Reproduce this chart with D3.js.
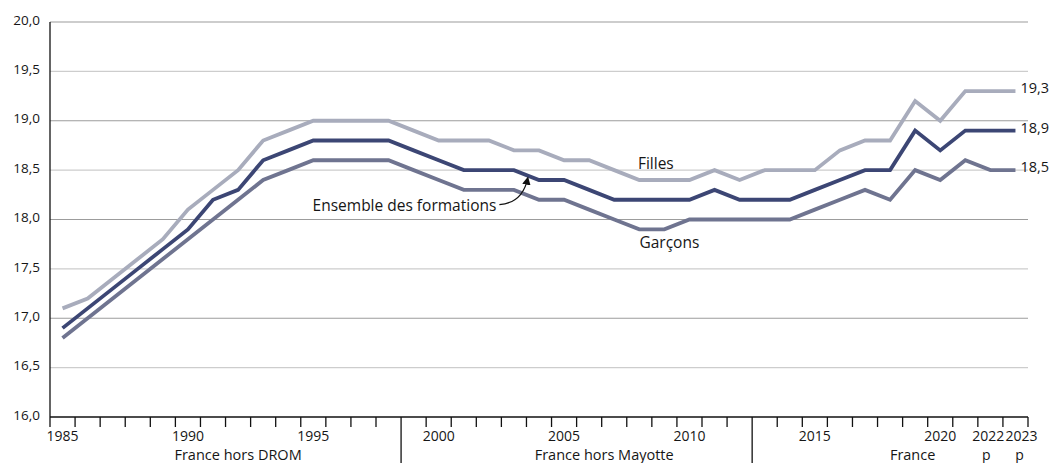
<!DOCTYPE html>
<html>
<head>
<meta charset="utf-8">
<script src="https://cdn.jsdelivr.net/npm/d3@7"></script>
<style>
  body { margin: 0; background: #fff; }
  svg text { font-family: "Open Sans", sans-serif; fill: #161616; }
</style>
</head>
<body>
<div id="chart"></div>
<script>
// years 1985 -> 2023
const years = d3.range(1985, 2024);

// values (years)
const filles = [17.1, 17.2, 17.4, 17.6, 17.8, 18.1, 18.3, 18.5, 18.8, 18.9,
  19.0, 19.0, 19.0, 19.0, 18.9, 18.8, 18.8, 18.8, 18.7, 18.7,
  18.6, 18.6, 18.5, 18.4, 18.4, 18.4, 18.5, 18.4, 18.5, 18.5,
  18.5, 18.7, 18.8, 18.8, 19.2, 19.0, 19.3, 19.3, 19.3];
const ensemble = [16.9, 17.1, 17.3, 17.5, 17.7, 17.9, 18.2, 18.3, 18.6, 18.7,
  18.8, 18.8, 18.8, 18.8, 18.7, 18.6, 18.5, 18.5, 18.5, 18.4,
  18.4, 18.3, 18.2, 18.2, 18.2, 18.2, 18.3, 18.2, 18.2, 18.2,
  18.3, 18.4, 18.5, 18.5, 18.9, 18.7, 18.9, 18.9, 18.9];
const garcons = [16.8, 17.0, 17.2, 17.4, 17.6, 17.8, 18.0, 18.2, 18.4, 18.5,
  18.6, 18.6, 18.6, 18.6, 18.5, 18.4, 18.3, 18.3, 18.3, 18.2,
  18.2, 18.1, 18.0, 17.9, 17.9, 18.0, 18.0, 18.0, 18.0, 18.0,
  18.1, 18.2, 18.3, 18.2, 18.5, 18.4, 18.6, 18.5, 18.5];

const yTicks = [16, 16.5, 17, 17.5, 18, 18.5, 19, 19.5, 20];
const yearLabels = [1985, 1990, 1995, 2000, 2005, 2010, 2015, 2020, 2022, 2023];
const provisional = [2022, 2023];

// territory groups under the axis
const groups = [
  { label: "France hors DROM", from: 1985, to: 1998, at: 1992 },
  { label: "France hors Mayotte", from: 1999, to: 2012, at: 2006.6 },
  { label: "France", from: 2013, to: 2023, at: 2018.9 }
];

const series = [
  { key: "Garçons", values: garcons, color: "#6f7490" },
  { key: "Filles", values: filles, color: "#a8acbc" },
  { key: "Ensemble des formations", values: ensemble, color: "#3c4674" }
];

const W = 1052, H = 463;
const margin = { top: 22, right: 24, bottom: 46, left: 50 };

const svg = d3.select("#chart").append("svg")
  .attr("width", W).attr("height", H);

const x = d3.scaleBand()
  .domain(years)
  .range([margin.left, W - margin.right])
  .padding(0);
const bw = x.bandwidth();
// continuous position at band centres (for labels placed between years)
const xl = d3.scaleLinear()
  .domain([1985, 2023])
  .range([x(1985) + bw / 2, x(2023) + bw / 2]);

const y = d3.scaleLinear()
  .domain([16, 20])
  .range([H - margin.bottom, margin.top]);

// gridlines: whole numbers darker, half numbers lighter
svg.append("g").selectAll("line")
  .data(yTicks.filter(d => d > 16))
  .join("line")
  .attr("x1", margin.left).attr("x2", W - margin.right)
  .attr("y1", d => y(d)).attr("y2", d => y(d))
  .attr("stroke", d => Number.isInteger(d) ? "#9c9c9c" : "#cdcdcd")
  .attr("stroke-width", 1.2);

// y labels
svg.append("g").selectAll("text")
  .data(yTicks)
  .join("text")
  .attr("x", margin.left - 10)
  .attr("y", d => y(d) - 2)
  .attr("dy", "0.35em")
  .attr("text-anchor", "end")
  .style("font-size", "13.5px")
  .text(d => d.toFixed(1).replace(".", ","));

// lines
const line = d3.line()
  .x((d, i) => x(years[i]) + bw / 2)
  .y(d => y(d));

svg.append("g").selectAll("path")
  .data(series)
  .join("path")
  .attr("fill", "none")
  .attr("stroke", d => d.color)
  .attr("stroke-width", 3.8)
  .attr("stroke-linejoin", "miter")
  .attr("d", d => line(d.values));

// axes lines
svg.append("line")
  .attr("x1", margin.left).attr("x2", margin.left)
  .attr("y1", y(20)).attr("y2", y(16))
  .attr("stroke", "#111").attr("stroke-width", 1.3);
svg.append("line")
  .attr("x1", margin.left).attr("x2", W - margin.right)
  .attr("y1", y(16)).attr("y2", y(16))
  .attr("stroke", "#111").attr("stroke-width", 1.3);

// ticks at band boundaries; group separators run to the bottom
const boundaries = years.map(d => x(d)).concat([x(2023) + bw]);
const sepX = groups.slice(1).map(g => x(g.from));
svg.append("g").selectAll("line")
  .data(boundaries)
  .join("line")
  .attr("x1", d => d).attr("x2", d => d)
  .attr("y1", y(16))
  .attr("y2", d => (sepX.some(s => Math.abs(s - d) < 0.5)) ? H : y(16) + 10)
  .attr("stroke", "#111").attr("stroke-width", 1.3);

// year labels
const labelShift = { 2022: -2, 2023: 6 };
svg.append("g").selectAll("text")
  .data(yearLabels)
  .join("text")
  .attr("x", d => x(d) + bw / 2 + (labelShift[d] || 0))
  .attr("y", y(16) + 19)
  .attr("dy", "0.35em")
  .attr("text-anchor", "middle")
  .style("font-size", "14px")
  .text(d => d);

// provisional marks
svg.append("g").selectAll("text")
  .data(provisional)
  .join("text")
  .attr("x", d => x(d) + bw / 2 + (labelShift[d] || 0) - 2)
  .attr("y", y(16) + 38)
  .attr("dy", "0.35em")
  .attr("text-anchor", "middle")
  .style("font-size", "14px")
  .text("p");

// group labels
svg.append("g").selectAll("text")
  .data(groups)
  .join("text")
  .attr("x", d => xl(d.at))
  .attr("y", y(16) + 38)
  .attr("dy", "0.35em")
  .attr("text-anchor", "middle")
  .style("font-size", "14.5px")
  .text(d => d.label);

// end values
svg.append("g").selectAll("text")
  .data(series)
  .join("text")
  .attr("x", x(2023) + bw / 2 + 5)
  .attr("y", d => y(d.values[d.values.length - 1]) - 3)
  .attr("dy", "0.35em")
  .style("font-size", "14.5px")
  .text(d => d.values[d.values.length - 1].toFixed(1).replace(".", ","));

// series annotations
svg.append("text")
  .attr("x", xl(2008.66)).attr("y", y(18.57)).attr("dy", "0.35em")
  .attr("text-anchor", "middle").style("font-size", "15.5px").text("Filles");
svg.append("text")
  .attr("x", xl(2009.2)).attr("y", y(17.77)).attr("dy", "0.35em")
  .attr("text-anchor", "middle").style("font-size", "15.5px").text("Garçons");
svg.append("text")
  .attr("x", xl(2002.3)).attr("y", y(18.14)).attr("dy", "0.35em")
  .attr("text-anchor", "end").style("font-size", "15.5px").text("Ensemble des formations");

// arrow from annotation to the Ensemble line
svg.append("defs").append("marker")
  .attr("id", "arrow")
  .attr("viewBox", "0 0 10 10")
  .attr("refX", 8).attr("refY", 5)
  .attr("markerWidth", 7).attr("markerHeight", 7)
  .attr("orient", "auto")
  .append("path")
  .attr("d", "M0,0 L10,5 L0,10 z")
  .attr("fill", "#111");

const ax0 = xl(2002.42), ay0 = y(18.15);
const ax1 = xl(2003.55), ay1 = y(18.42);
svg.append("path")
  .attr("d", `M${ax0},${ay0} Q${ax1 - 5},${ay0 - 2} ${ax1},${ay1}`)
  .attr("fill", "none")
  .attr("stroke", "#111")
  .attr("stroke-width", 1.2)
  .attr("marker-end", "url(#arrow)");
</script>
</body>
</html>
